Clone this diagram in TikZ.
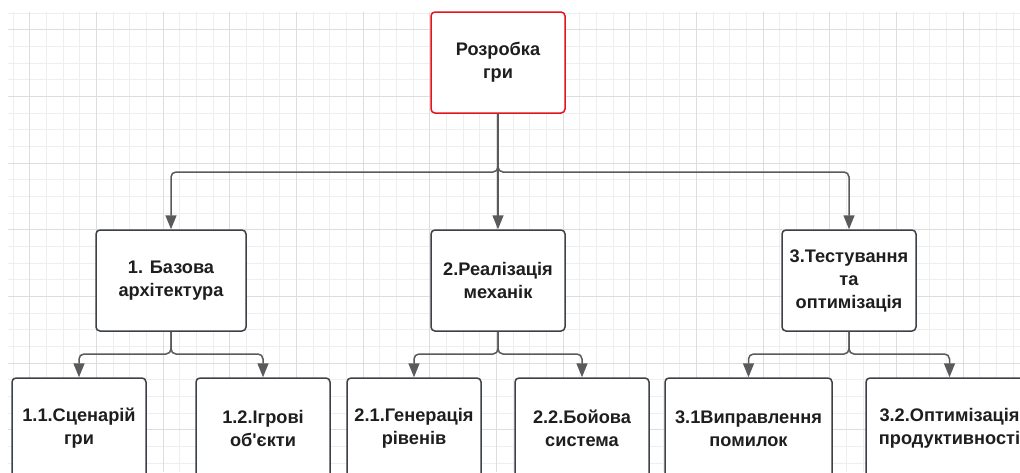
\documentclass[tikz,border=0pt]{standalone}
\usepackage{fontspec}
\setmainfont{Liberation Sans}
\newfontfamily\plainsans{Liberation Sans}[Ligatures=TeXOff]
\usetikzlibrary{arrows.meta}
\definecolor{gridminor}{HTML}{EEEEEE}
\definecolor{gridmajor}{HTML}{DDDDDD}
\definecolor{boxline}{HTML}{3C4147}
\definecolor{rootline}{HTML}{E3141E}
\definecolor{wire}{HTML}{5A5A5A}
\definecolor{ink}{HTML}{1E1E1E}
\tikzset{
  block/.style={draw=boxline, line width=1.5pt, rounded corners=4pt, fill=white,
    align=center, text=ink, font=\bfseries\fontsize{18.2}{23}\selectfont,
    minimum width=134pt, minimum height=101pt, inner sep=2pt},
  rootblock/.style={block, draw=rootline},
  link/.style={draw=wire, line width=1.5pt, rounded corners=5pt,
    -{Triangle[length=14pt,width=11pt]}},
  finegrid/.style={draw=gridminor, line width=0.8pt},
  coarsegrid/.style={draw=gridmajor, line width=1pt}
}
\begin{document}
\begin{tikzpicture}[x=1pt,y=-1pt]
\useasboundingbox (0,0) rectangle (1020,472);
\clip (0,0) rectangle (1020,472);
\fill[white] (0,0) rectangle (1020,472);
% background grid
\foreach \k in {0,...,60} {
  \pgfmathsetmacro{\p}{13+16.6667*\k}
  \ifdim \p pt<1021pt \draw[finegrid] (\p,12) -- (\p,472); \fi
  \ifdim \p pt<473pt \draw[finegrid] (8,\p) -- (1020,\p); \fi
}
\foreach \k in {0,...,15} {
  \pgfmathsetmacro{\p}{29.667+66.667*\k}
  \ifdim \p pt<1021pt \draw[coarsegrid] (\p,12) -- (\p,472); \fi
  \ifdim \p pt<473pt \draw[coarsegrid] (8,\p) -- (1020,\p); \fi
}
% blocks
\node[rootblock] (root) at (498,62.5) {Розробка\\гри};
\node[block, minimum width=150pt] (b1) at (171,280.5) {1. Базова\\архітектура};
\node[block] (b2) at (498,280.5) {2.Реалізація\\механік};
\node[block] (b3) at (849,280.5) {3.Тестування\\та\\оптимізація};
\node[block] (c11) at (79,428.5) {1.1.Сценарій\\гри};
\node[block] (c12) at (263,428.5) {1.2.Ігрові\\об{\plainsans\bfseries '}єкти};
\node[block] (c21) at (414,428.5) {2.1.Генерація\\рівенів};
\node[block] (c22) at (582,428.5) {2.2.Бойова\\система};
\node[block, minimum width=167pt] (c31) at (748.5,428.5) {3.1Виправлення\\помилок};
\node[block, minimum width=167pt] (c32) at (949.5,428.5) {3.2.Оптимізація\\продуктивності};
% junction points of the connector buses
\coordinate (j0) at (498,172);
\coordinate (j1) at (171,354);
\coordinate (j2) at (498,354);
\coordinate (j3) at (849,354);
% connectors
\draw[link] (root.south) -- (j0) -| (b1.north);
\draw[link] (root.south) -- (j0) -| (b3.north);
\draw[link] (root.south) -- (b2.north);
\draw[link] (b1.south) -- (j1) -| (c11.north);
\draw[link] (b1.south) -- (j1) -| (c12.north);
\draw[link] (b2.south) -- (j2) -| (c21.north);
\draw[link] (b2.south) -- (j2) -| (c22.north);
\draw[link] (b3.south) -- (j3) -| (c31.north);
\draw[link] (b3.south) -- (j3) -| (c32.north);
\end{tikzpicture}
\end{document}
